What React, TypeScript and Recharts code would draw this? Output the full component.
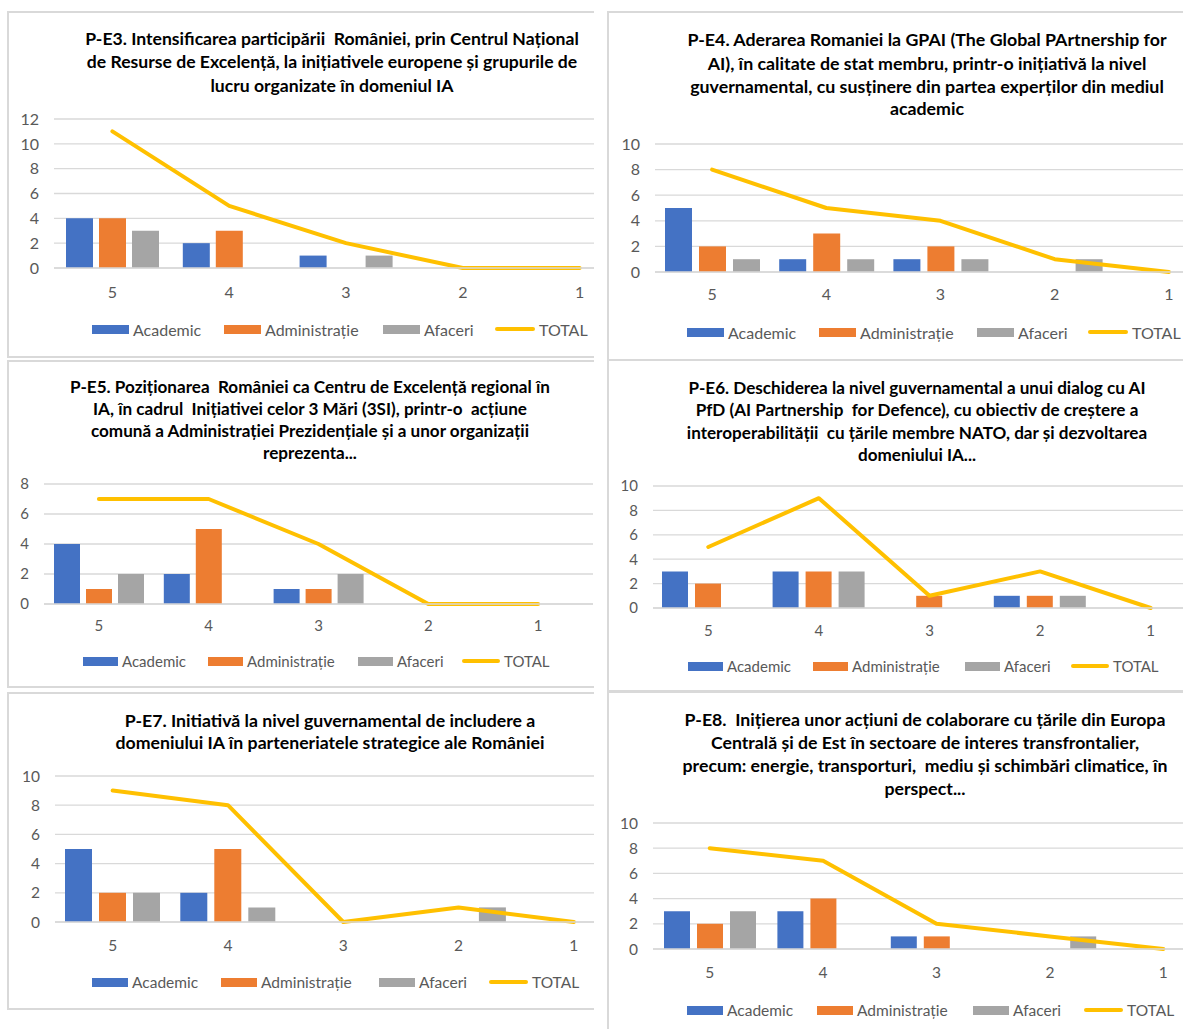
import React from "react";
import { ComposedChart, Bar, Line, XAxis, YAxis, CartesianGrid } from "recharts";

// ---------- data ----------
const categories = ["5", "4", "3", "2", "1"];
const seriesNames = ["Academic", "Administrație", "Afaceri", "TOTAL"];
const seriesColors = ["#4472C4", "#ED7D31", "#A5A5A5", "#FFC000"];

const titleE3 = [
  "P-E3. Intensificarea participării  României, prin Centrul Național",
  "de Resurse de Excelență, la inițiativele europene și grupurile de",
  "lucru organizate în domeniul IA",
];
const academicE3 = [4, 2, 1, 0, 0];
const administratieE3 = [4, 3, 0, 0, 0];
const afaceriE3 = [3, 0, 1, 0, 0];
const totalE3 = [11, 5, 2, 0, 0];
const ticksE3 = [0, 2, 4, 6, 8, 10, 12];

const titleE4 = [
  "P-E4. Aderarea Romaniei la GPAI (The Global PArtnership for",
  "AI), în calitate de stat membru, printr-o inițiativă la nivel",
  "guvernamental, cu susținere din partea experților din mediul",
  "academic",
];
const academicE4 = [5, 1, 1, 0, 0];
const administratieE4 = [2, 3, 2, 0, 0];
const afaceriE4 = [1, 1, 1, 1, 0];
const totalE4 = [8, 5, 4, 1, 0];
const ticksE4 = [0, 2, 4, 6, 8, 10];

const titleE5 = [
  "P-E5. Poziționarea  României ca Centru de Excelență regional în",
  "IA, în cadrul  Inițiativei celor 3 Mări (3SI), printr-o  acțiune",
  "comună a Administrației Prezidențiale și a unor organizații",
  "reprezenta...",
];
const academicE5 = [4, 2, 1, 0, 0];
const administratieE5 = [1, 5, 1, 0, 0];
const afaceriE5 = [2, 0, 2, 0, 0];
const totalE5 = [7, 7, 4, 0, 0];
const ticksE5 = [0, 2, 4, 6, 8];

const titleE6 = [
  "P-E6. Deschiderea la nivel guvernamental a unui dialog cu AI",
  "PfD (AI Partnership  for Defence), cu obiectiv de creștere a",
  "interoperabilității  cu țările membre NATO, dar și dezvoltarea",
  "domeniului IA...",
];
const academicE6 = [3, 3, 0, 1, 0];
const administratieE6 = [2, 3, 1, 1, 0];
const afaceriE6 = [0, 3, 0, 1, 0];
const totalE6 = [5, 9, 1, 3, 0];
const ticksE6 = [0, 2, 4, 6, 8, 10];

const titleE7 = [
  "P-E7. Initiativă la nivel guvernamental de includere a",
  "domeniului IA în parteneriatele strategice ale României",
];
const academicE7 = [5, 2, 0, 0, 0];
const administratieE7 = [2, 5, 0, 0, 0];
const afaceriE7 = [2, 1, 0, 1, 0];
const totalE7 = [9, 8, 0, 1, 0];
const ticksE7 = [0, 2, 4, 6, 8, 10];

const titleE8 = [
  "P-E8.  Inițierea unor acțiuni de colaborare cu țările din Europa",
  "Centrală și de Est în sectoare de interes transfrontalier,",
  "precum: energie, transporturi,  mediu și schimbări climatice, în",
  "perspect...",
];
const academicE8 = [3, 3, 1, 0, 0];
const administratieE8 = [2, 4, 1, 0, 0];
const afaceriE8 = [3, 0, 0, 1, 0];
const totalE8 = [8, 7, 2, 1, 0];
const ticksE8 = [0, 2, 4, 6, 8, 10];

function buildRows(a: number[], b: number[], c: number[], t: number[]) {
  return categories.map((cat, i) => ({
    cat,
    [seriesNames[0]]: a[i],
    [seriesNames[1]]: b[i],
    [seriesNames[2]]: c[i],
    [seriesNames[3]]: t[i],
  }));
}

// ---------- layout (page coordinates) ----------
type Layout = {
  col: "L" | "R";
  top: number;
  bottom: number;
  titleX: number;
  titleY: number[];
  titleSize: number;
  plotLeft: number;
  plotRight: number;
  plotTop: number;
  plotBottom: number;
  barSize: number;
  barGap: number;
  xMargin: number;
  fontSize: number;
  legendX: number[];
  legendY: number;
  swatch: number;
};

const FONT = "Lato, 'Noto Sans', 'DejaVu Sans', sans-serif";
const GRID = "#D9D9D9";
const TEXT = "#595959";

const panels: { title: string[]; rows: any[]; ticks: number[]; L: Layout }[] = [
  {
    title: titleE3,
    rows: buildRows(academicE3, administratieE3, afaceriE3, totalE3),
    ticks: ticksE3,
    L: {
      col: "L", top: 12, bottom: 357, titleX: 332, titleY: [38, 61, 85], titleSize: 17.6,
      plotLeft: 54, plotRight: 638, plotTop: 119, plotBottom: 268,
      barSize: 27, barGap: 6, xMargin: 19, fontSize: 16,
      legendX: [92, 224, 383, 495], legendY: 329, swatch: 37,
    },
  },
  {
    title: titleE4,
    rows: buildRows(academicE4, administratieE4, afaceriE4, totalE4),
    ticks: ticksE4,
    L: {
      col: "R", top: 12, bottom: 360, titleX: 927, titleY: [39, 63, 86, 108], titleSize: 17.8,
      plotLeft: 655, plotRight: 1226, plotTop: 144, plotBottom: 272,
      barSize: 27, barGap: 7, xMargin: 17, fontSize: 16,
      legendX: [687, 819, 977, 1088], legendY: 332, swatch: 37,
    },
  },
  {
    title: titleE5,
    rows: buildRows(academicE5, administratieE5, afaceriE5, totalE5),
    ticks: ticksE5,
    L: {
      col: "L", top: 361, bottom: 687, titleX: 310, titleY: [386, 408, 430, 452], titleSize: 17.1,
      plotLeft: 44, plotRight: 593, plotTop: 484, plotBottom: 604,
      barSize: 26, barGap: 6, xMargin: 16, fontSize: 15,
      legendX: [83, 208, 358, 462], legendY: 661, swatch: 35,
    },
  },
  {
    title: titleE6,
    rows: buildRows(academicE6, administratieE6, afaceriE6, totalE6),
    ticks: ticksE6,
    L: {
      col: "R", top: 360, bottom: 691, titleX: 917, titleY: [387, 409, 432, 454], titleSize: 17.1,
      plotLeft: 653, plotRight: 1206, plotTop: 486, plotBottom: 608,
      barSize: 26, barGap: 7, xMargin: 17, fontSize: 15,
      legendX: [688, 813, 965, 1071], legendY: 666, swatch: 35,
    },
  },
  {
    title: titleE7,
    rows: buildRows(academicE7, administratieE7, afaceriE7, totalE7),
    ticks: ticksE7,
    L: {
      col: "L", top: 693, bottom: 1009, titleX: 330, titleY: [720, 742], titleSize: 17.7,
      plotLeft: 54.5, plotRight: 631, plotTop: 776, plotBottom: 922,
      barSize: 27, barGap: 7, xMargin: 18, fontSize: 15.5,
      legendX: [92, 221, 379, 489], legendY: 982, swatch: 36,
    },
  },
  {
    title: titleE8,
    rows: buildRows(academicE8, administratieE8, afaceriE8, totalE8),
    ticks: ticksE8,
    L: {
      col: "R", top: 692, bottom: 1060, titleX: 925, titleY: [719, 742, 765, 788], titleSize: 17.7,
      plotLeft: 653, plotRight: 1220, plotTop: 823, plotBottom: 949,
      barSize: 26, barGap: 7, xMargin: 18, fontSize: 15.5,
      legendX: [687, 817, 973, 1084], legendY: 1010, swatch: 36,
    },
  },
];

const COL_X = { L: 0, R: 600 };
const COL_W = { L: 594, R: 583 };

function Panel({ p }: { p: (typeof panels)[number] }) {
  const L = p.L;
  const cx = COL_X[L.col];
  const Y_W = 50;
  const chartLeft = L.plotLeft - Y_W;
  const chartTop = L.plotTop - 12;
  const width = L.plotRight - chartLeft;
  const height = L.plotBottom - chartTop + 40;
  const yMax = p.ticks[p.ticks.length - 1];
  const tickStyle = { fill: TEXT, fontSize: L.fontSize, fontFamily: FONT };
  return (
    <>
      <div
        style={{
          position: "absolute",
          left: (L.col === "L" ? 8 : 608) - cx - 1,
          top: L.top - 1,
          width: 900,
          height: L.bottom - L.top + 2,
          boxSizing: "border-box",
          borderTop: `2px solid ${GRID}`,
          borderLeft: `2px solid ${GRID}`,
          borderBottom: `2px solid ${GRID}`,
        }}
      />
      {p.title.map((line, i) => (
        <div
          key={i}
          style={{
            position: "absolute",
            left: L.titleX - cx - 350,
            width: 700,
            top: L.titleY[i] - 12.5,
            height: 25,
            lineHeight: "25px",
            textAlign: "center",
            whiteSpace: "pre",
            fontFamily: FONT,
            fontWeight: 700,
            fontSize: L.titleSize,
            color: "#000",
          }}
        >
          {line}
        </div>
      ))}
      <div style={{ position: "absolute", left: chartLeft - cx, top: chartTop }}>
        <ComposedChart
          width={width}
          height={height}
          data={p.rows}
          margin={{ top: L.plotTop - chartTop, right: 0, left: 0, bottom: 0 }}
          barGap={L.barGap}
        >
          <CartesianGrid vertical={false} stroke={GRID} strokeWidth={1.3} />
          <XAxis
            dataKey="cat"
            height={40}
            interval={0}
            tickLine={false}
            tickSize={0}
            tickMargin={L.xMargin}
            axisLine={{ stroke: GRID, strokeWidth: 1.3 }}
            tick={tickStyle}
          />
          <YAxis
            width={Y_W}
            domain={[0, yMax]}
            ticks={p.ticks}
            interval={0}
            axisLine={false}
            tickLine={false}
            tickSize={0}
            tickMargin={15}
            tick={tickStyle}
          />
          {seriesNames.slice(0, 3).map((s, i) => (
            <Bar key={s} dataKey={s} fill={seriesColors[i]} barSize={L.barSize} isAnimationActive={false} />
          ))}
          <Line
            type="linear"
            dataKey={seriesNames[3]}
            stroke={seriesColors[3]}
            strokeWidth={4}
            strokeLinejoin="round"
            strokeLinecap="round"
            dot={false}
            activeDot={false}
            isAnimationActive={false}
          />
        </ComposedChart>
      </div>
      {seriesNames.map((s, i) => (
        <div
          key={s}
          style={{
            position: "absolute",
            left: L.legendX[i] - cx,
            top: L.legendY - 11,
            height: 22,
            display: "flex",
            alignItems: "center",
            whiteSpace: "nowrap",
            fontFamily: FONT,
            fontSize: L.fontSize,
            color: TEXT,
          }}
        >
          <div
            style={{
              width: i === 3 ? L.swatch + 3 : L.swatch,
              height: i === 3 ? 4 : 9,
              background: seriesColors[i],
              borderRadius: i === 3 ? 2 : 0,
              marginRight: 4,
            }}
          />
          <span>{s}</span>
        </div>
      ))}
    </>
  );
}

export default function App() {
  return (
    <div
      style={{
        position: "absolute",
        left: 0,
        top: 0,
        width: 1183,
        height: 1029,
        overflow: "hidden",
        background: "#fff",
      }}
    >
      {(["L", "R"] as const).map((col) => (
        <div
          key={col}
          style={{
            position: "absolute",
            left: COL_X[col],
            top: 0,
            width: COL_W[col],
            height: 1029,
            overflow: "hidden",
          }}
        >
          {panels
            .filter((p) => p.L.col === col)
            .map((p, i) => (
              <Panel key={i} p={p} />
            ))}
        </div>
      ))}
    </div>
  );
}
